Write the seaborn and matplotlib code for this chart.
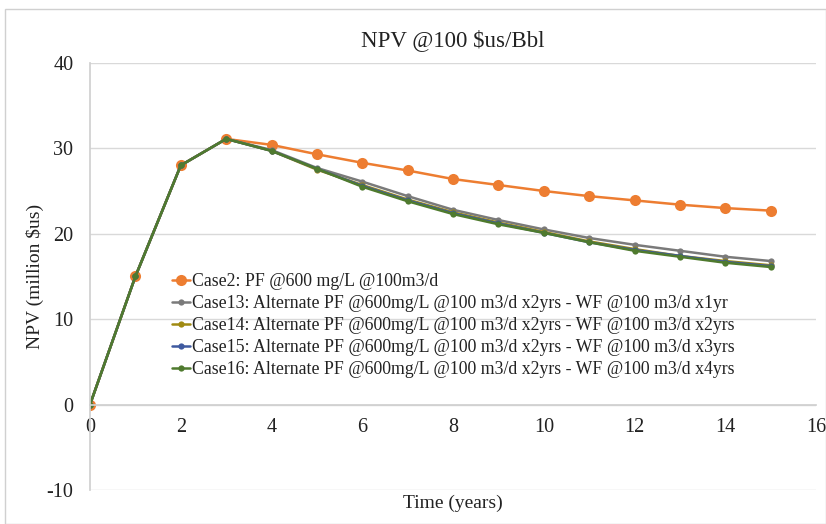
import matplotlib
matplotlib.use("Agg")
import matplotlib.pyplot as plt
import seaborn as sns
import pandas as pd
from matplotlib.patches import Rectangle

years = list(range(16))
case2 = [0, 15.0, 28.0, 31.1, 30.4, 29.3, 28.3, 27.4, 26.4, 25.7, 25.0, 24.4, 23.9, 23.4, 23.0, 22.7]
case13 = [0, 15.0, 28.0, 31.1, 29.8, 27.7, 26.1, 24.4, 22.8, 21.6, 20.5, 19.5, 18.7, 18.0, 17.3, 16.8]
case14 = [0, 15.0, 28.0, 31.1, 29.7, 27.5, 25.7, 24.0, 22.5, 21.3, 20.2, 19.1, 18.2, 17.4, 16.8, 16.3]
case15 = [0, 15.0, 28.0, 31.1, 29.7, 27.6, 25.6, 23.9, 22.4, 21.2, 20.1, 19.0, 18.1, 17.4, 16.7, 16.2]
case16 = [0, 15.0, 28.0, 31.1, 29.7, 27.6, 25.5, 23.8, 22.3, 21.1, 20.1, 19.0, 18.0, 17.3, 16.6, 16.1]

labels = [
    "Case2: PF @600 mg/L @100m3/d",
    "Case13: Alternate PF @600mg/L @100 m3/d x2yrs - WF @100 m3/d x1yr",
    "Case14: Alternate PF @600mg/L @100 m3/d x2yrs - WF @100 m3/d x2yrs",
    "Case15: Alternate PF @600mg/L @100 m3/d x2yrs - WF @100 m3/d x3yrs",
    "Case16: Alternate PF @600mg/L @100 m3/d x2yrs - WF @100 m3/d x4yrs",
]
series = [case2, case13, case14, case15, case16]
colors = ["#ED7D31", "#7A7A7A", "#A08A12", "#3F5AA0", "#4F7A2E"]
msizes = [8, 4.5, 4.5, 4.5, 4.5]

sns.set_theme(style="white")
plt.rcParams['font.family'] = ['Liberation Serif', 'DejaVu Serif']
plt.rcParams['axes.unicode_minus'] = False

fig = plt.figure(figsize=(8.26, 5.24), dpi=100)
ax = fig.add_axes([0.109, 0.065, 0.879, 0.815])

for lab, vals, c, ms in zip(labels, series, colors, msizes):
    df = pd.DataFrame({"t": years, "v": vals})
    sns.lineplot(data=df, x="t", y="v", ax=ax, color=c, marker="o",
                 markersize=ms, markeredgewidth=0, linewidth=1.8, label=lab)

ax.set_xlim(0, 16)
ax.set_ylim(-10, 40)
ax.set_xticks(range(0, 17, 2))
ax.set_yticks(range(-10, 41, 10))
ax.yaxis.grid(True, color="#D9D9D9", linewidth=1)
ax.xaxis.grid(False)
for s in ["top", "right"]:
    ax.spines[s].set_visible(False)
ax.spines["left"].set_color("#D0D0D0")
ax.spines["bottom"].set_color("#D0D0D0")
ax.spines["bottom"].set_position(("data", 0))
ax.set_axisbelow(True)
ax.tick_params(axis="both", length=0, labelsize=14.5, colors="#222222")
ax.tick_params(axis="y", pad=12)
ax.tick_params(axis="x", pad=10)

ax.set_title("NPV @100 $us/Bbl", fontsize=16.5, pad=12, color="#222222")
ax.set_xlabel("Time (years)", fontsize=14, color="#222222")
ax.xaxis.set_label_coords(0.5, -0.012)
ax.set_ylabel("NPV (million $us)", fontsize=14, color="#222222", labelpad=2)

leg = ax.legend(loc="upper left", bbox_to_anchor=(0.103, 0.524), frameon=False,
                fontsize=12.8, handlelength=1.0, handletextpad=0.15,
                labelspacing=0.28, borderaxespad=0)
for t in leg.get_texts():
    t.set_color("#222222")

fig.patches.append(Rectangle((0.006, 0.0), 0.994, 0.983, transform=fig.transFigure,
                             fill=False, edgecolor="#D0D0D0", linewidth=1))

fig.savefig("out.png", dpi=100)
